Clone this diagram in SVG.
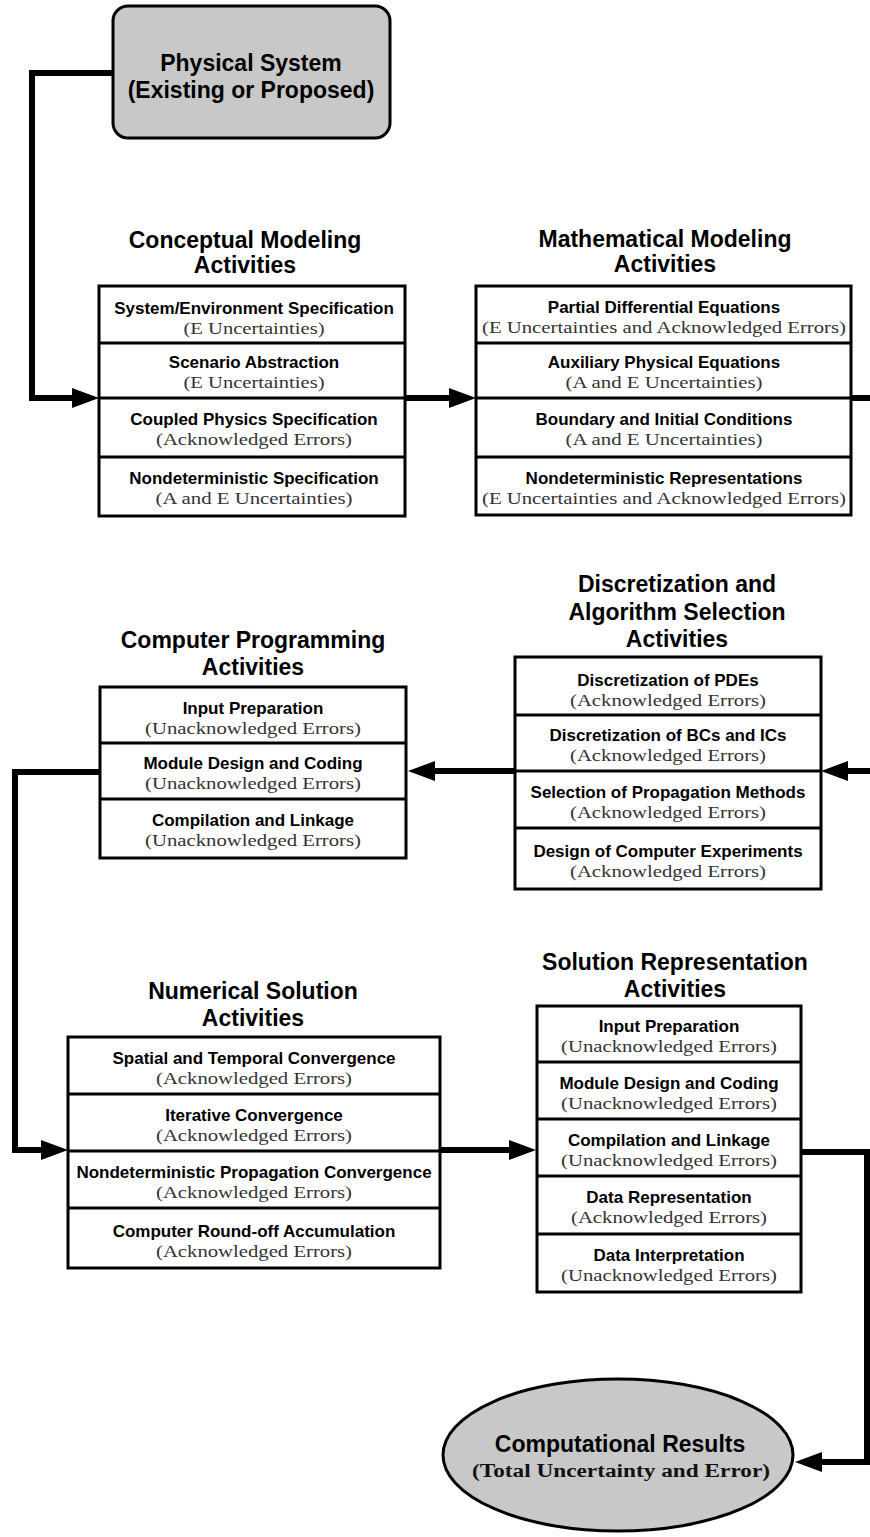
<svg xmlns="http://www.w3.org/2000/svg" width="870" height="1537" viewBox="0 0 870 1537">
<style>
.box{fill:#fff;stroke:#000;stroke-width:3}
.sep{stroke:#000;stroke-width:3}
.grey{fill:#c8c8c8;stroke:#000;stroke-width:3}
.h{font-family:"Liberation Sans",Arial,sans-serif;font-weight:bold;font-size:23px;fill:#000;text-anchor:middle}
.t{font-family:"Liberation Sans",Arial,sans-serif;font-weight:bold;font-size:17px;fill:#000;text-anchor:middle}
.s{font-family:"Liberation Serif","Times New Roman",serif;font-size:16px;fill:#333;text-anchor:middle}
.sb{font-family:"Liberation Serif","Times New Roman",serif;font-weight:bold;font-size:18px;fill:#111;text-anchor:middle}
.c{fill:none;stroke:#000;stroke-width:6}
</style>
<defs>
<marker id="ah" markerUnits="userSpaceOnUse" markerWidth="28" markerHeight="20" refX="2" refY="10" orient="auto">
<path d="M0,0 L27,10 L0,20 z" fill="#000"/>
</marker>
</defs>

<g id="connectors">
<path class="c" d="M113,73 H32 V398 H74" marker-end="url(#ah)"/>
<path class="c" d="M405,398 H451" marker-end="url(#ah)"/>
<path class="c" d="M851,398 H872"/>
<path class="c" d="M872,771 H846" marker-end="url(#ah)"/>
<path class="c" d="M515,771 H433" marker-end="url(#ah)"/>
<path class="c" d="M100,772 H15 V1150 H43" marker-end="url(#ah)"/>
<path class="c" d="M440,1150 H511" marker-end="url(#ah)"/>
<path class="c" d="M801,1152 H867 V1462 H820" marker-end="url(#ah)"/>
</g>

<g id="physical-system">
<rect class="grey" x="113" y="6" width="277" height="132" rx="15"/>
<text class="h" x="251" y="71">Physical System</text>
<text class="h" x="251" y="98">(Existing or Proposed)</text>
</g>

<g id="conceptual-modeling">
<text class="h" x="245" y="248">Conceptual Modeling</text>
<text class="h" x="245" y="273">Activities</text>
<rect class="box" x="99" y="286" width="306" height="230"/>
<line class="sep" x1="99" y1="343" x2="405" y2="343"/>
<line class="sep" x1="99" y1="398" x2="405" y2="398"/>
<line class="sep" x1="99" y1="457" x2="405" y2="457"/>
<text class="t" x="254" y="314">System/Environment Specification</text>
<text class="s" x="254" y="334" textLength="141" lengthAdjust="spacingAndGlyphs">(E Uncertainties)</text>
<text class="t" x="254" y="368">Scenario Abstraction</text>
<text class="s" x="254" y="388" textLength="141" lengthAdjust="spacingAndGlyphs">(E Uncertainties)</text>
<text class="t" x="254" y="425">Coupled Physics Specification</text>
<text class="s" x="254" y="445" textLength="196" lengthAdjust="spacingAndGlyphs">(Acknowledged Errors)</text>
<text class="t" x="254" y="484">Nondeterministic Specification</text>
<text class="s" x="254" y="504" textLength="197" lengthAdjust="spacingAndGlyphs">(A and E Uncertainties)</text>
</g>

<g id="mathematical-modeling">
<text class="h" x="665" y="247">Mathematical Modeling</text>
<text class="h" x="665" y="272">Activities</text>
<rect class="box" x="476" y="286" width="375" height="229"/>
<line class="sep" x1="476" y1="343" x2="851" y2="343"/>
<line class="sep" x1="476" y1="398" x2="851" y2="398"/>
<line class="sep" x1="476" y1="457" x2="851" y2="457"/>
<text class="t" x="664" y="313">Partial Differential Equations</text>
<text class="s" x="664" y="333" textLength="364" lengthAdjust="spacingAndGlyphs">(E Uncertainties and Acknowledged Errors)</text>
<text class="t" x="664" y="368">Auxiliary Physical Equations</text>
<text class="s" x="664" y="388" textLength="197" lengthAdjust="spacingAndGlyphs">(A and E Uncertainties)</text>
<text class="t" x="664" y="425">Boundary and Initial Conditions</text>
<text class="s" x="664" y="445" textLength="197" lengthAdjust="spacingAndGlyphs">(A and E Uncertainties)</text>
<text class="t" x="664" y="484">Nondeterministic Representations</text>
<text class="s" x="664" y="504" textLength="364" lengthAdjust="spacingAndGlyphs">(E Uncertainties and Acknowledged Errors)</text>
</g>

<g id="discretization">
<text class="h" x="677" y="592">Discretization and</text>
<text class="h" x="677" y="620">Algorithm Selection</text>
<text class="h" x="677" y="647">Activities</text>
<rect class="box" x="515" y="657" width="306" height="232"/>
<line class="sep" x1="515" y1="715" x2="821" y2="715"/>
<line class="sep" x1="515" y1="771" x2="821" y2="771"/>
<line class="sep" x1="515" y1="828" x2="821" y2="828"/>
<text class="t" x="668" y="686">Discretization of PDEs</text>
<text class="s" x="668" y="706" textLength="196" lengthAdjust="spacingAndGlyphs">(Acknowledged Errors)</text>
<text class="t" x="668" y="741">Discretization of BCs and ICs</text>
<text class="s" x="668" y="761" textLength="196" lengthAdjust="spacingAndGlyphs">(Acknowledged Errors)</text>
<text class="t" x="668" y="798">Selection of Propagation Methods</text>
<text class="s" x="668" y="818" textLength="196" lengthAdjust="spacingAndGlyphs">(Acknowledged Errors)</text>
<text class="t" x="668" y="857">Design of Computer Experiments</text>
<text class="s" x="668" y="877" textLength="196" lengthAdjust="spacingAndGlyphs">(Acknowledged Errors)</text>
</g>

<g id="computer-programming">
<text class="h" x="253" y="648">Computer Programming</text>
<text class="h" x="253" y="675">Activities</text>
<rect class="box" x="100" y="687" width="306" height="171"/>
<line class="sep" x1="100" y1="743" x2="406" y2="743"/>
<line class="sep" x1="100" y1="799" x2="406" y2="799"/>
<text class="t" x="253" y="714">Input Preparation</text>
<text class="s" x="253" y="734" textLength="216" lengthAdjust="spacingAndGlyphs">(Unacknowledged Errors)</text>
<text class="t" x="253" y="769">Module Design and Coding</text>
<text class="s" x="253" y="789" textLength="216" lengthAdjust="spacingAndGlyphs">(Unacknowledged Errors)</text>
<text class="t" x="253" y="826">Compilation and Linkage</text>
<text class="s" x="253" y="846" textLength="216" lengthAdjust="spacingAndGlyphs">(Unacknowledged Errors)</text>
</g>

<g id="numerical-solution">
<text class="h" x="253" y="999">Numerical Solution</text>
<text class="h" x="253" y="1026">Activities</text>
<rect class="box" x="68" y="1037" width="372" height="231"/>
<line class="sep" x1="68" y1="1094" x2="440" y2="1094"/>
<line class="sep" x1="68" y1="1151" x2="440" y2="1151"/>
<line class="sep" x1="68" y1="1208" x2="440" y2="1208"/>
<text class="t" x="254" y="1064">Spatial and Temporal Convergence</text>
<text class="s" x="254" y="1084" textLength="196" lengthAdjust="spacingAndGlyphs">(Acknowledged Errors)</text>
<text class="t" x="254" y="1121">Iterative Convergence</text>
<text class="s" x="254" y="1141" textLength="196" lengthAdjust="spacingAndGlyphs">(Acknowledged Errors)</text>
<text class="t" x="254" y="1178">Nondeterministic Propagation Convergence</text>
<text class="s" x="254" y="1198" textLength="196" lengthAdjust="spacingAndGlyphs">(Acknowledged Errors)</text>
<text class="t" x="254" y="1237">Computer Round-off Accumulation</text>
<text class="s" x="254" y="1257" textLength="196" lengthAdjust="spacingAndGlyphs">(Acknowledged Errors)</text>
</g>

<g id="solution-representation">
<text class="h" x="675" y="970">Solution Representation</text>
<text class="h" x="675" y="997">Activities</text>
<rect class="box" x="537" y="1006" width="264" height="286"/>
<line class="sep" x1="537" y1="1062" x2="801" y2="1062"/>
<line class="sep" x1="537" y1="1119" x2="801" y2="1119"/>
<line class="sep" x1="537" y1="1176" x2="801" y2="1176"/>
<line class="sep" x1="537" y1="1234" x2="801" y2="1234"/>
<text class="t" x="669" y="1032">Input Preparation</text>
<text class="s" x="669" y="1052" textLength="216" lengthAdjust="spacingAndGlyphs">(Unacknowledged Errors)</text>
<text class="t" x="669" y="1089">Module Design and Coding</text>
<text class="s" x="669" y="1109" textLength="216" lengthAdjust="spacingAndGlyphs">(Unacknowledged Errors)</text>
<text class="t" x="669" y="1146">Compilation and Linkage</text>
<text class="s" x="669" y="1166" textLength="216" lengthAdjust="spacingAndGlyphs">(Unacknowledged Errors)</text>
<text class="t" x="669" y="1203">Data Representation</text>
<text class="s" x="669" y="1223" textLength="196" lengthAdjust="spacingAndGlyphs">(Acknowledged Errors)</text>
<text class="t" x="669" y="1261">Data Interpretation</text>
<text class="s" x="669" y="1281" textLength="216" lengthAdjust="spacingAndGlyphs">(Unacknowledged Errors)</text>
</g>

<g id="computational-results">
<ellipse class="grey" cx="618" cy="1455" rx="175" ry="76"/>
<text class="h" x="620" y="1452">Computational Results</text>
<text class="sb" x="621" y="1477" textLength="298" lengthAdjust="spacingAndGlyphs">(Total Uncertainty and Error)</text>
</g>
</svg>
